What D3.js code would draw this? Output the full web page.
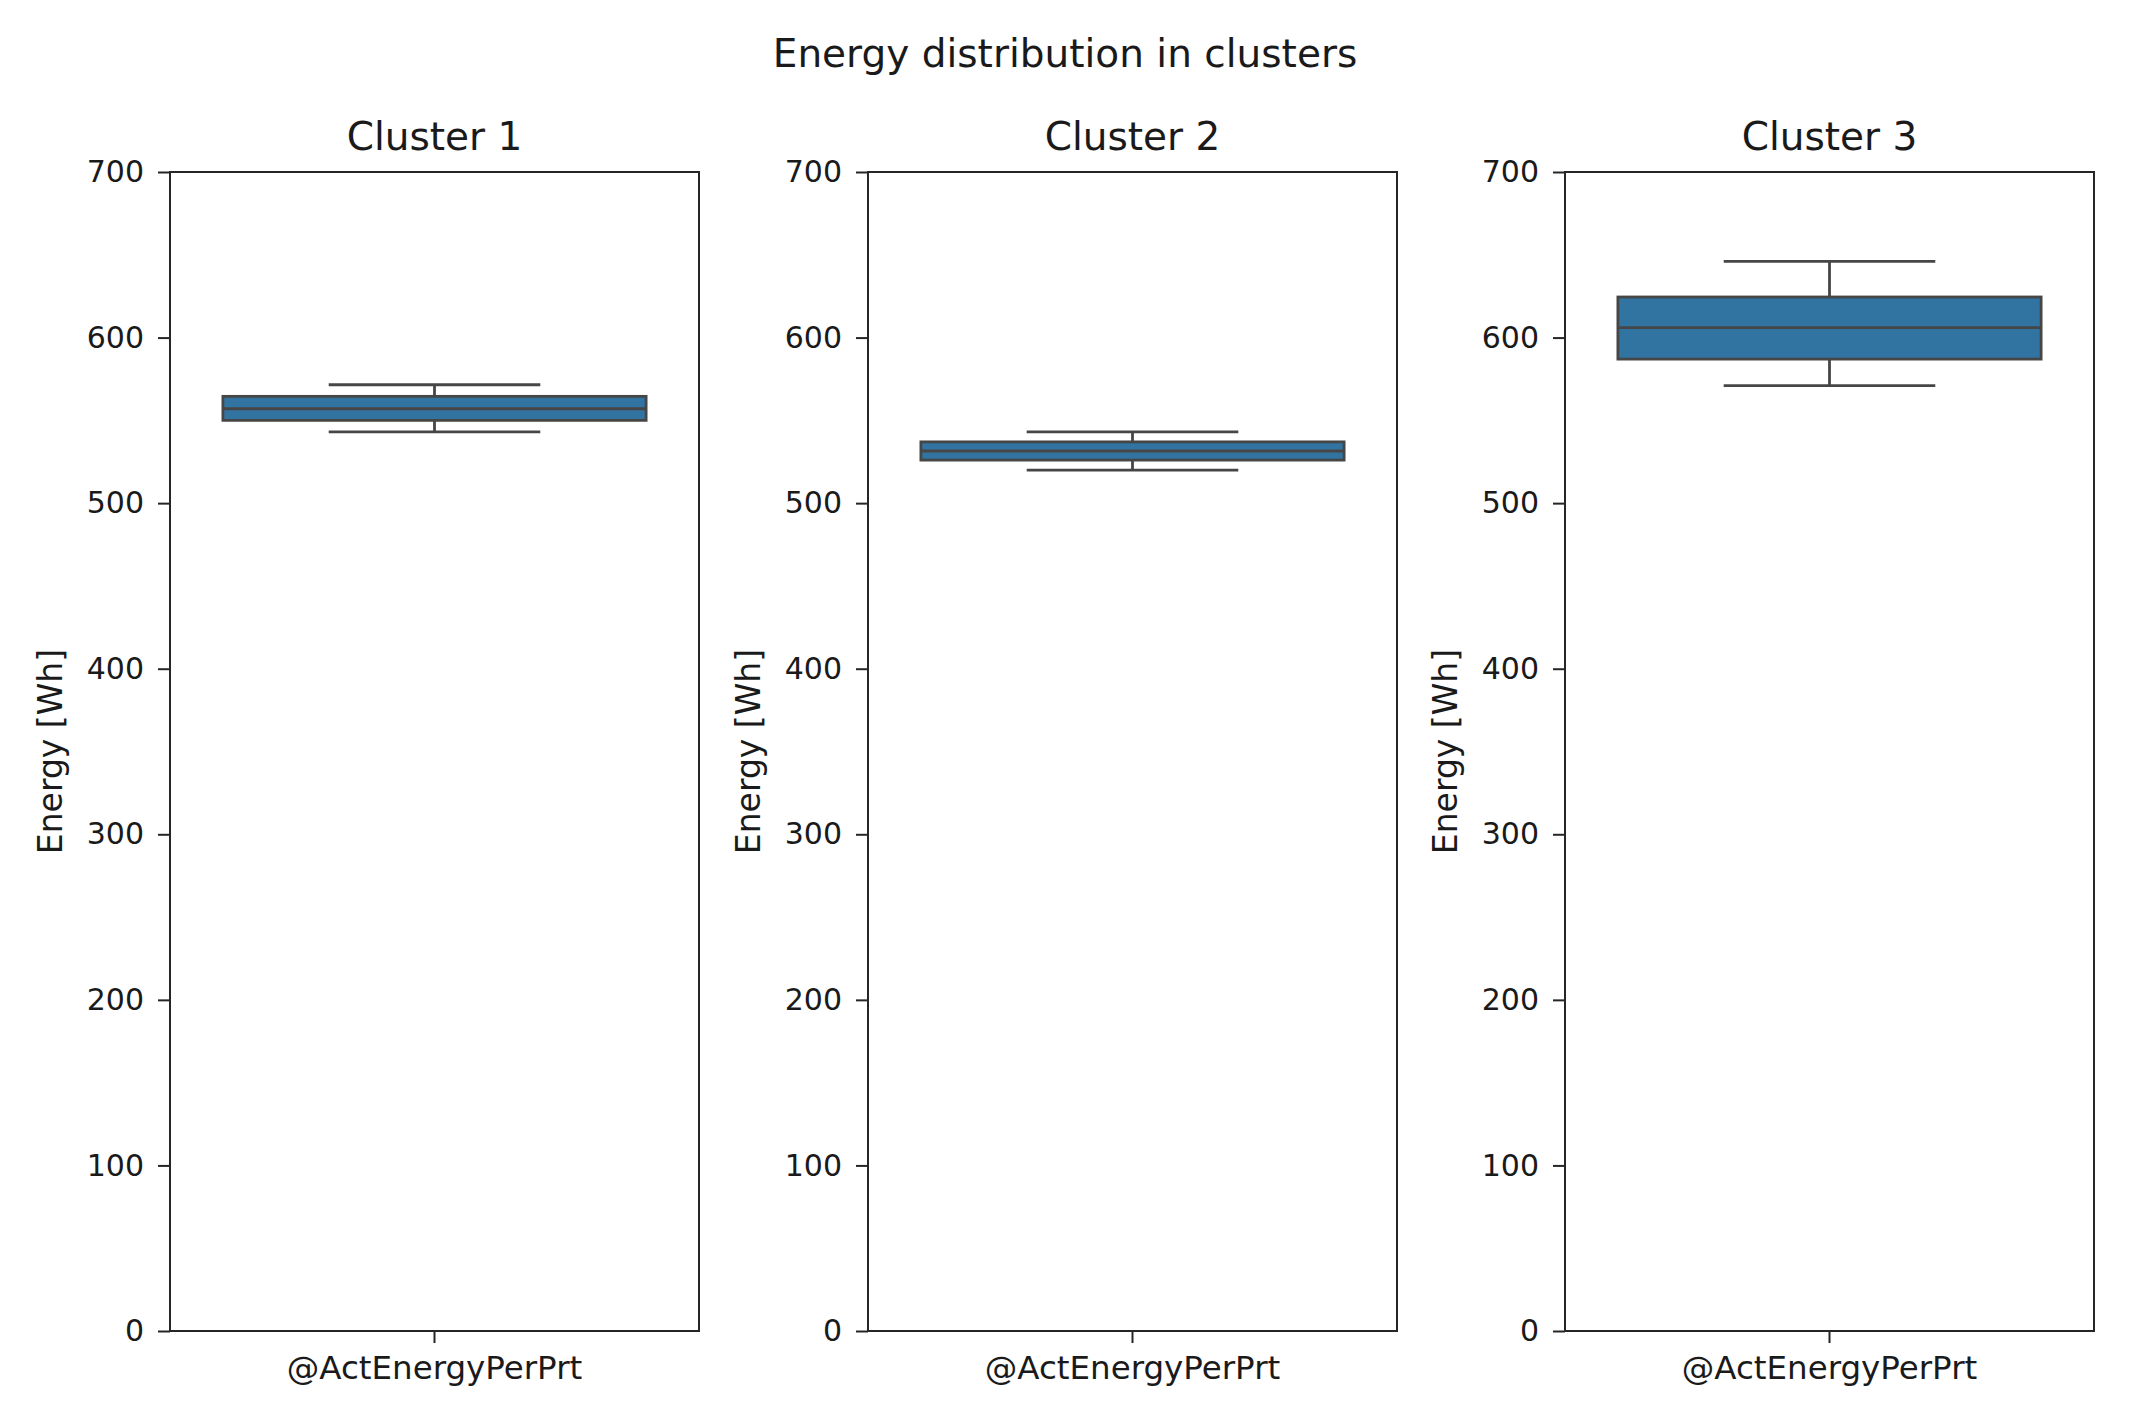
<!DOCTYPE html>
<html>
<head>
<meta charset="utf-8">
<script src="https://cdn.jsdelivr.net/npm/d3@7"></script>
<style>
  html, body { margin: 0; padding: 0; background: #ffffff; }
  svg text { font-family: "DejaVu Sans", sans-serif; fill: #1a1a1a; }
</style>
</head>
<body>
<svg id="chart" width="2130" height="1427"></svg>
<script>
// ---- data ----
const clusters = ["Cluster 1", "Cluster 2", "Cluster 3"];
const category = "@ActEnergyPerPrt";
const whiskerLow  = [543, 520, 571];
const q1          = [550, 526, 587];
const median      = [557, 531.5, 606];
const q3          = [564.5, 537, 624.5];
const whiskerHigh = [571.5, 543, 646];
const yTicks = [0, 100, 200, 300, 400, 500, 600, 700];
const yLabel = "Energy [Wh]";
const suptitle = "Energy distribution in clusters";

// ---- layout ----
const svg = d3.select("#chart");
const panelLeft = [170, 868, 1565];
const panelW = 529;
const plotTop = 172, plotBottom = 1331;
const boxFill = "#3274a1";
const lineCol = "#464646";

svg.append("text")
  .attr("x", 1065).attr("y", 67)
  .attr("text-anchor", "middle")
  .style("font-size", "39px")
  .text(suptitle);

clusters.forEach((name, i) => {
  const g = svg.append("g").attr("transform", `translate(${panelLeft[i]},0)`);
  const y = d3.scaleLinear().domain([0, 700]).range([plotBottom, plotTop]);
  const x = d3.scaleBand().domain([category]).range([0, panelW]).paddingInner(0).paddingOuter(0);
  const cx = x(category) + x.bandwidth() / 2;
  const boxW = x.bandwidth() * 0.8;
  const capW = boxW * 0.5;

  // whiskers
  g.append("line")
    .attr("x1", cx).attr("x2", cx)
    .attr("y1", y(whiskerHigh[i])).attr("y2", y(q3[i]))
    .attr("stroke", lineCol).attr("stroke-width", 2.8);
  g.append("line")
    .attr("x1", cx).attr("x2", cx)
    .attr("y1", y(q1[i])).attr("y2", y(whiskerLow[i]))
    .attr("stroke", lineCol).attr("stroke-width", 2.8);
  [whiskerHigh[i], whiskerLow[i]].forEach(v => {
    g.append("line")
      .attr("x1", cx - capW / 2).attr("x2", cx + capW / 2)
      .attr("y1", y(v)).attr("y2", y(v))
      .attr("stroke", lineCol).attr("stroke-width", 2.8);
  });
  // box
  g.append("rect")
    .attr("x", cx - boxW / 2).attr("width", boxW)
    .attr("y", y(q3[i])).attr("height", y(q1[i]) - y(q3[i]))
    .attr("fill", boxFill).attr("stroke", lineCol).attr("stroke-width", 2.8);
  // median
  g.append("line")
    .attr("x1", cx - boxW / 2).attr("x2", cx + boxW / 2)
    .attr("y1", y(median[i])).attr("y2", y(median[i]))
    .attr("stroke", lineCol).attr("stroke-width", 2.8);

  // frame
  g.append("rect")
    .attr("x", 0).attr("y", plotTop).attr("width", panelW).attr("height", plotBottom - plotTop)
    .attr("fill", "none").attr("stroke", "#262626").attr("stroke-width", 2);

  // y axis
  const ya = g.append("g").call(d3.axisLeft(y).tickValues(yTicks).tickSize(12).tickPadding(14));
  ya.select(".domain").remove();
  ya.selectAll("line").attr("stroke", "#262626").attr("stroke-width", 2);
  ya.selectAll("text").style("font-size", "30px").attr("fill", "#1a1a1a");

  // x axis
  const xa = g.append("g").attr("transform", `translate(0,${plotBottom})`)
    .call(d3.axisBottom(x).tickSize(12).tickPadding(13));
  xa.select(".domain").remove();
  xa.selectAll("line").attr("stroke", "#262626").attr("stroke-width", 2);
  xa.selectAll("text").style("font-size", "32.5px").attr("fill", "#1a1a1a");

  // titles / labels
  g.append("text")
    .attr("x", panelW / 2).attr("y", 150)
    .attr("text-anchor", "middle")
    .style("font-size", "39px")
    .text(name);
  g.append("text")
    .attr("transform", `translate(-108,${(plotTop + plotBottom) / 2}) rotate(-90)`)
    .attr("text-anchor", "middle")
    .style("font-size", "33px")
    .text(yLabel);
});
</script>
</body>
</html>
